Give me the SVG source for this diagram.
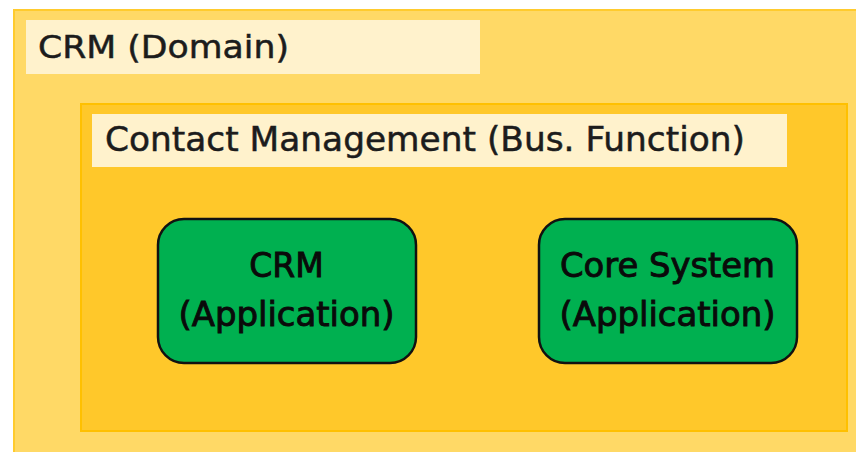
<svg xmlns="http://www.w3.org/2000/svg" width="856" height="452" viewBox="0 0 856 452">
<style>
.lbl{font-family:"DejaVu Sans","Liberation Sans",sans-serif;fill:#1c1c1c;stroke:#1c1c1c;stroke-width:0.5}
.app rect{fill:#00B050;stroke:#111;stroke-width:2.5}
.app text{font-family:"DejaVu Sans","Liberation Sans",sans-serif;font-size:33px;fill:#0a0a0a;stroke:#0a0a0a;stroke-width:0.9;text-anchor:middle}
.tag{fill:#FFF2CC}
</style>
<rect width="856" height="452" fill="#ffffff"/>
<g id="domain">
<rect x="14" y="10" width="850" height="450" fill="#FFD966" stroke="#FFCB2E" stroke-width="2"/>
<rect class="tag" x="26" y="20" width="454" height="54"/>
<text class="lbl" x="38" y="58" font-size="32" textLength="251" lengthAdjust="spacingAndGlyphs">CRM (Domain)</text>
</g>
<g id="function">
<rect x="81" y="104" width="766" height="327" fill="#FFC82A" stroke="#FFC000" stroke-width="2"/>
<rect class="tag" x="92" y="114" width="695" height="53"/>
<text class="lbl" x="105" y="151" font-size="33" textLength="640" lengthAdjust="spacingAndGlyphs">Contact Management (Bus. Function)</text>
</g>
<g id="crm-app" class="app">
<rect x="158" y="219" width="258" height="144" rx="26"/>
<text x="286.5" y="277">CRM</text>
<text x="286.5" y="326" textLength="216" lengthAdjust="spacingAndGlyphs">(Application)</text>
</g>
<g id="core-app" class="app">
<rect x="539" y="219" width="258" height="144" rx="26"/>
<text x="667.5" y="277" textLength="215" lengthAdjust="spacingAndGlyphs">Core System</text>
<text x="667.5" y="326" textLength="216" lengthAdjust="spacingAndGlyphs">(Application)</text>
</g>
<g id="connectors"></g>
</svg>
